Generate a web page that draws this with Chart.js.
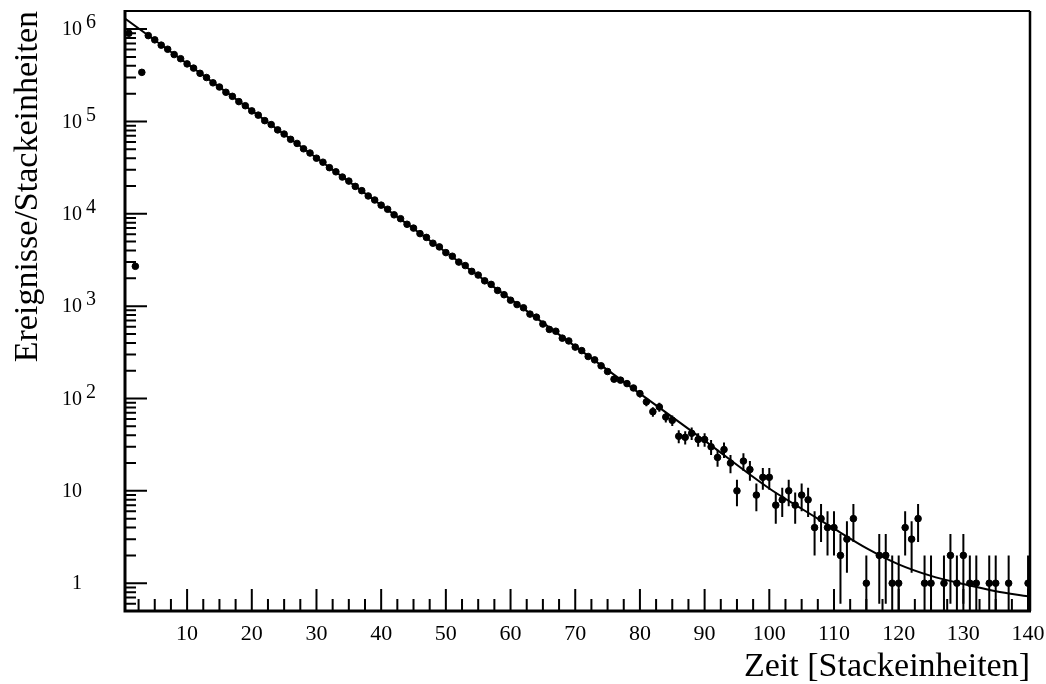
<!DOCTYPE html>
<html><head><meta charset="utf-8">
<script src="https://cdn.jsdelivr.net/npm/chart.js@4/dist/chart.umd.min.js"></script>
<style>html,body{margin:0;padding:0;background:#fff;}canvas{display:block;}</style>
</head><body>
<canvas id="c" width="1046" height="684"></canvas>
<script>
// ---- data ----
const bins = [1,2,3,4,5,6,7,8,9,10,11,12,13,14,15,16,17,18,19,20,
  21,22,23,24,25,26,27,28,29,30,31,32,33,34,35,36,37,38,39,40,
  41,42,43,44,45,46,47,48,49,50,51,52,53,54,55,56,57,58,59,60,
  61,62,63,64,65,66,67,68,69,70,71,72,73,74,75,76,77,78,79,80,
  81,82,83,84,85,86,87,88,89,90,91,92,93,94,95,96,97,98,99,100,
  101,102,103,104,105,106,107,108,109,110,111,112,113,114,115,116,117,118,119,120,
  121,122,123,124,125,126,127,128,129,130,131,132,133,134,135,136,137,138,139,140];
const counts = [900000,2700,340000,850000,765000,670000,605000,530000,478000,420000,
  378000,332000,299000,262000,236000,207000,187000,164000,148000,130000,
  117000,102000,92500,81000,73000,64000,57800,50600,45500,40000,
  36200,31600,28500,25000,22600,19800,17800,15600,14100,12400,
  11200,9750,8850,7700,7000,6100,5550,4800,4380,3800,
  3470,3000,2750,2380,2170,1880,1720,1480,1330,1160,
  1040,960,820,760,640,560,535,450,420,360,
  330,285,262,226,196,162,158,145,130,113,
  92,72,81,63,58,39,38,42,36,36,
  30,23,28,20,10,21,17,9,14,14,
  7,8,10,7,9,8,4,5,4,4,
  2,3,5,null,1,null,2,2,1,1,
  4,3,5,1,1,null,1,2,1,2,
  1,1,null,1,1,null,1,null,null,1];
const errBins = [80,81,82,83,84,85,86,87,88,89,90,91,92,93,94,95,96,97,98,99,100,
  101,102,103,104,105,106,107,108,109,110,111,112,113,115,117,118,119,120,
  121,122,123,124,125,127,128,129,130,131,132,134,135,137,140];
const errValues = [10.6,9.6,8.5,9,7.9,7.6,6.2,6.2,6.5,6,6,5.5,4.8,5.3,4.5,3.2,4.6,4.1,3,3.7,3.7,
  2.6,2.8,3.2,2.6,3,2.8,2,2.2,2,2,1.4,1.7,2.2,1,1.4,1.4,1,1,
  2,1.7,2.2,1,1,1,1.4,1,1.4,1,1,1,1,1,1];
const fitX = [0.4,20,40,60,80,90,100,105,110,115,120,125,130,135,140];
const fitY = [1.3e6,1.31e5,1.24e4,1190,113,35,10.6,6.4,3.9,2.4,1.6,1.2,0.98,0.82,0.72];
const xTickValues = [10,20,30,40,50,60,70,80,90,100,110,120,130,140];
const yTickValues = [1,10,100,1000,10000,100000,1000000];
const yTickBase = ['1','10','10','10','10','10','10'];
const yTickExp = ['','','2','3','4','5','6'];

// ---- build datasets ----
const points = [];
bins.forEach((b,i)=>{ if (counts[i] != null) points.push({x:b, y:counts[i]}); });
const errData = [];
errBins.forEach((b,i)=>{
  const n = counts[bins.indexOf(b)];
  const e = errValues[i];
  if (n == null || e == null) return;
  errData.push({x:b, y:Math.max(n - e, 0.05)}, {x:b, y:n + e}, {x:b, y:null});
});
const fitData = fitX.map((x,i)=>({x, y:fitY[i]}));

const xMinor = [];
for (let v = 2.5; v < 140; v += 2.5) if (v % 10 !== 0) xMinor.push(v);
const yMinor = [];
for (let d = -1; d <= 6; d++) for (let m = 2; m <= 9; m++) { const v = m * Math.pow(10, d); if (v > 0.5 && v < 1.57e6) yMinor.push(v); }

const FONT = '"Liberation Serif", "Times New Roman", serif';

const axisDecor = {
  id: 'axisDecor',
  afterDatasetsDraw(chart) {
    const {ctx, chartArea: a, scales: {x, y}} = chart;
    ctx.save();
    ctx.strokeStyle = '#000';
    ctx.lineWidth = 2;
    ctx.beginPath();
    xTickValues.forEach(v => { const p = x.getPixelForValue(v); ctx.moveTo(p, a.bottom); ctx.lineTo(p, a.bottom - 22); });
    xMinor.forEach(v => { const p = x.getPixelForValue(v); ctx.moveTo(p, a.bottom); ctx.lineTo(p, a.bottom - 12); });
    yTickValues.forEach(v => { const p = y.getPixelForValue(v); ctx.moveTo(a.left, p); ctx.lineTo(a.left + 22, p); });
    yMinor.forEach(v => { const p = y.getPixelForValue(v); ctx.moveTo(a.left, p); ctx.lineTo(a.left + 11, p); });
    ctx.stroke();
    // frame
    ctx.lineWidth = 2;
    ctx.beginPath(); ctx.moveTo(a.left, a.top); ctx.lineTo(a.right, a.top); ctx.stroke();
    ctx.lineWidth = 2.5;
    ctx.beginPath(); ctx.moveTo(a.right, a.top); ctx.lineTo(a.right, a.bottom); ctx.stroke();
    ctx.lineWidth = 3;
    ctx.beginPath(); ctx.moveTo(a.left, a.top - 1); ctx.lineTo(a.left, a.bottom); ctx.lineTo(a.right + 1, a.bottom); ctx.stroke();
    // y tick labels (base + raised exponent)
    ctx.fillStyle = '#000';
    ctx.font = '20px ' + FONT;
    ctx.textBaseline = 'middle';
    yTickValues.forEach((v,i) => {
      const p = y.getPixelForValue(v);
      ctx.textAlign = 'right';
      ctx.fillText(yTickBase[i], 82, p + 1);
      if (yTickExp[i]) { ctx.textAlign = 'left'; ctx.fillText(yTickExp[i], 86, p - 6); }
    });
    ctx.restore();
  }
};

new Chart(document.getElementById('c'), {
  type: 'scatter',
  data: {
    datasets: [
      { type:'line', data: errData, borderColor:'#000', borderWidth:2, pointRadius:0, spanGaps:false, fill:false, order:3 },
      { type:'line', data: fitData, borderColor:'#000', borderWidth:2, pointRadius:0, cubicInterpolationMode:'monotone', fill:false, order:1 },
      { type:'scatter', data: points, backgroundColor:'#000', borderColor:'#000', pointRadius:3.3, pointBorderWidth:1, order:2 }
    ]
  },
  options: {
    responsive: false,
    animation: false,
    devicePixelRatio: 1,
    layout: { padding: { left: 0, right: 16, top: 11, bottom: 0 } },
    plugins: { legend: { display:false }, tooltip: { enabled:false } },
    scales: {
      x: {
        type: 'linear', min: 0.4, max: 140.3,
        grid: { display:false, drawTicks:false }, border: { display:false },
        afterBuildTicks: s => { s.ticks = xTickValues.map(v => ({value:v})); },
        afterFit: s => { s.height = 73; s.paddingLeft = 0; s.paddingRight = 0; },
        ticks: { color:'#000', font:{ family: FONT, size: 22 }, padding: 10, maxRotation:0, autoSkip:false },
        title: { display:true, text:'Zeit [Stackeinheiten]', align:'end', color:'#000',
                 font:{ family: FONT, size: 34, lineHeight: 1 }, padding:{ top:0, bottom:0 } }
      },
      y: {
        type: 'logarithmic', min: 0.5, max: 1.57e6,
        grid: { display:false, drawTicks:false }, border: { display:false },
        ticks: { display:false },
        afterFit: s => { s.width = 125; },
        title: { display:true, text:'Ereignisse/Stackeinheiten', align:'end', color:'#000',
                 font:{ family: FONT, size: 34, lineHeight: 1 }, padding:{ top:11, bottom:0 } }
      }
    }
  },
  plugins: [axisDecor]
});
</script>
</body></html>
